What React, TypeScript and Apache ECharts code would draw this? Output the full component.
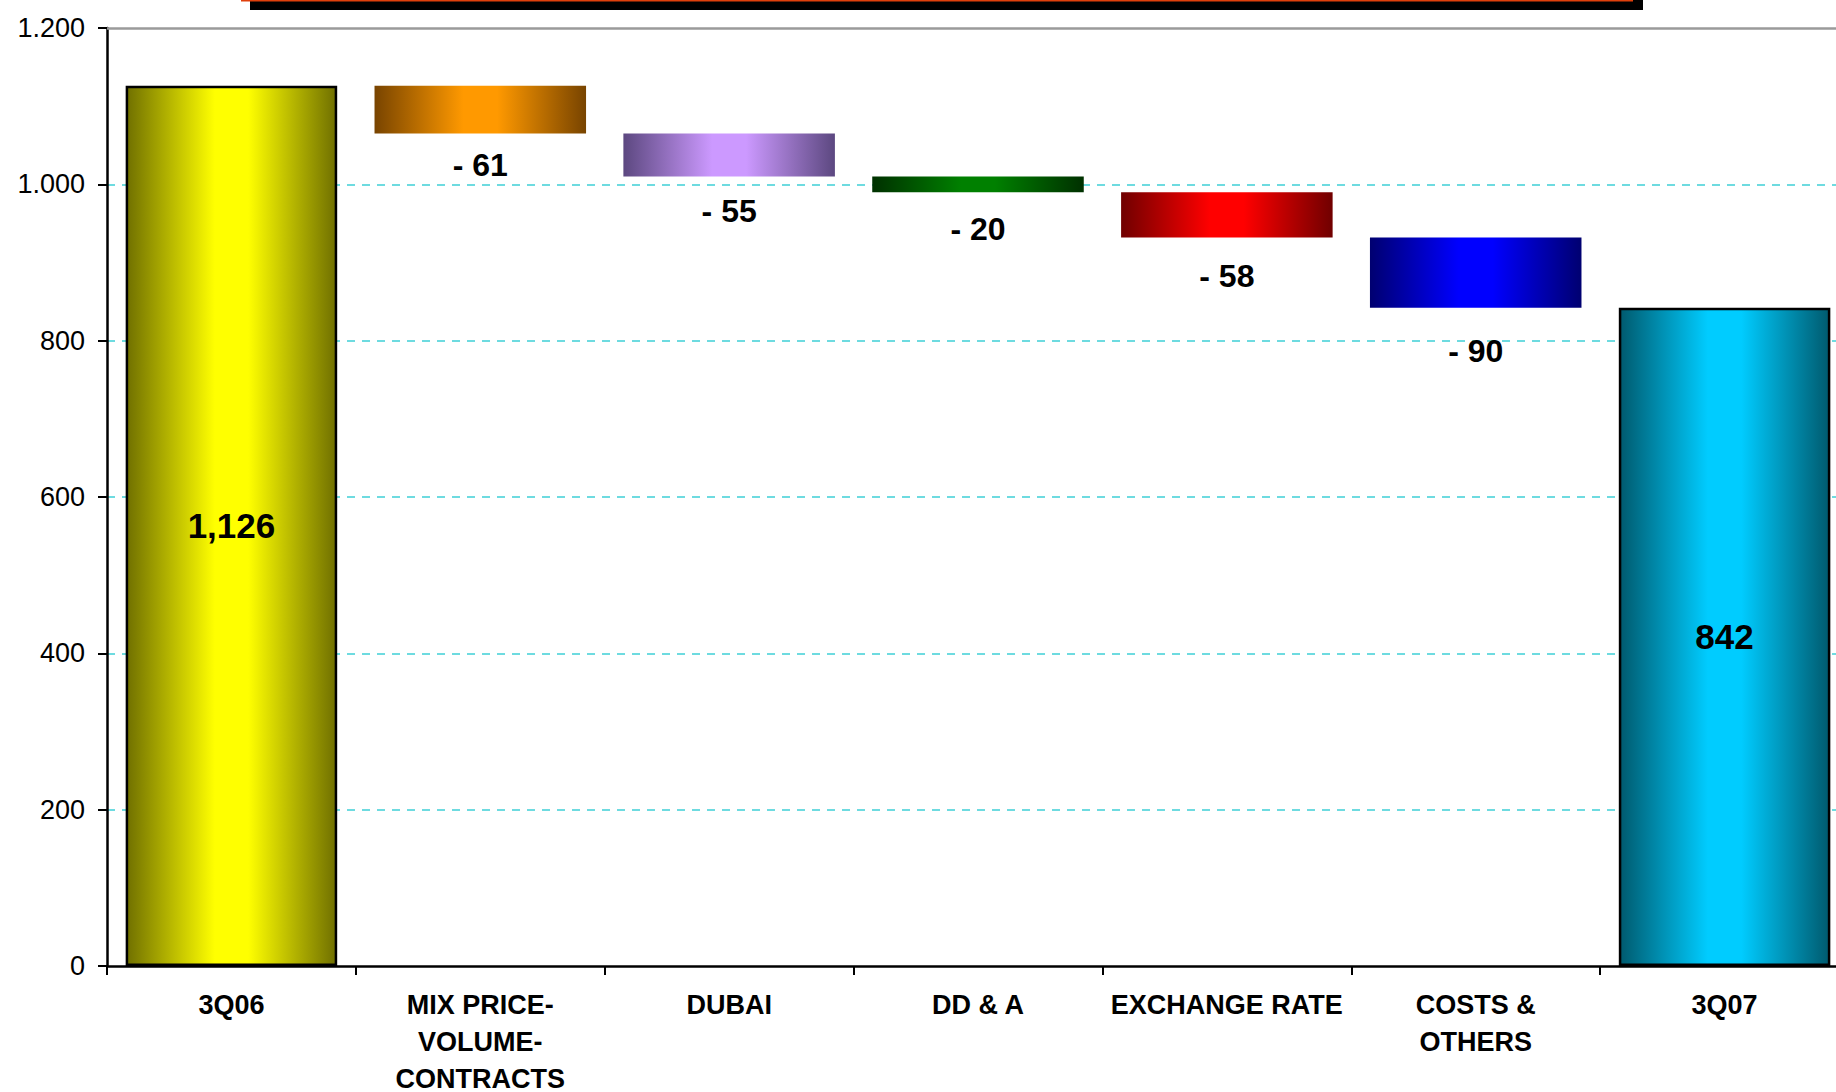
import React, { useEffect, useRef } from "react";
import * as echarts from "echarts";

const categories = [
  "3Q06",
  "MIX PRICE-\nVOLUME-\nCONTRACTS",
  "DUBAI",
  "DD & A",
  "EXCHANGE RATE",
  "COSTS &\nOTHERS",
  "3Q07",
];
const startValue = 1126;
const deltas = [-61, -55, -20, -58, -90];
const endValue = 842;
const yTicks = [0, 200, 400, 600, 800, 1000, 1200];

// gradient palette: [edge, centre]
const palette: [string, string][] = [
  ["#707000", "#ffff00"],
  ["#784400", "#ff9900"],
  ["#5c4880", "#cc99ff"],
  ["#003000", "#008000"],
  ["#700000", "#ff0000"],
  ["#000070", "#0000ff"],
  ["#005a6e", "#00ccff"],
];
// label gap below each delta bar (style)
const deltaLabelGap = [15, 18, 21, 23, 27];

const FONT = "'Liberation Sans', Arial, Helvetica, sans-serif";

function grad(edge: string, mid: string) {
  return new echarts.graphic.LinearGradient(0, 0, 1, 0, [
    { offset: 0, color: edge },
    { offset: 0.42, color: mid },
    { offset: 0.58, color: mid },
    { offset: 1, color: edge },
  ]);
}

export default function App() {
  const ref = useRef<HTMLDivElement>(null);
  useEffect(() => {
    if (!ref.current) return;
    const chart = echarts.init(ref.current, null, { renderer: "svg" });

    const base: number[] = [0];
    const heights: number[] = [startValue];
    let running = startValue;
    deltas.forEach((d) => {
      running += d;
      base.push(d < 0 ? running : running - d);
      heights.push(Math.abs(d));
    });
    base.push(0);
    heights.push(endValue);

    const n = categories.length;
    const valueData = heights.map((h, i) => {
      const isTotal = i === 0 || i === n - 1;
      const [edge, mid] = palette[i];
      return {
        value: h,
        itemStyle: {
          color: grad(edge, mid),
          borderColor: isTotal ? "#000" : "transparent",
          borderWidth: isTotal ? 2.5 : 0,
        },
        label: isTotal
          ? {
              show: true,
              position: "inside",
              fontSize: 35,
              fontWeight: "bold",
              fontFamily: FONT,
              color: "#000",
              formatter: () => h.toLocaleString("en-US"),
            }
          : {
              show: true,
              position: "bottom",
              distance: deltaLabelGap[i - 1],
              fontSize: 32,
              fontWeight: "bold",
              fontFamily: FONT,
              color: "#000",
              formatter: () => "- " + h,
            },
      };
    });

    const grid = "#3fcfd6";
    chart.setOption({
      animation: false,
      backgroundColor: "#fff",
      graphic: [
        {
          type: "rect",
          shape: { x: 250, y: 0, width: 1393, height: 10 },
          style: { fill: "#000" },
          z: 10,
        },
        {
          type: "rect",
          shape: { x: 241, y: 0, width: 1392, height: 1.5 },
          style: { fill: "#e0400c" },
          z: 11,
        },
      ],
      grid: {
        left: 107,
        top: 28,
        width: 1742,
        height: 938,
        containLabel: false,
        outerBoundsMode: "none",
      },
      xAxis: {
        type: "category",
        data: categories,
        axisLine: { lineStyle: { color: "#000", width: 2.5 } },
        axisTick: { show: true, length: 9, lineStyle: { color: "#000", width: 2 } },
        axisLabel: {
          interval: 0,
          fontSize: 27,
          fontWeight: "bold",
          fontFamily: FONT,
          color: "#000",
          lineHeight: 37,
          margin: 20,
        },
      },
      yAxis: {
        type: "value",
        min: 0,
        max: 1200,
        interval: 200,
        axisLine: { show: true, lineStyle: { color: "#000", width: 2.5 } },
        axisTick: { show: true, length: 9, lineStyle: { color: "#000", width: 2 } },
        axisLabel: {
          fontSize: 27,
          fontFamily: FONT,
          color: "#000",
          margin: 22,
          formatter: (v: number) =>
            v >= 1000 ? v.toLocaleString("en-US").replace(",", ".") : String(v),
        },
        splitLine: {
          show: true,
          lineStyle: {
            color: yTicks.map((t, i) =>
              i === 0 || i === yTicks.length - 1 ? "rgba(0,0,0,0)" : grid
            ),
            type: [8, 7],
            width: 1.5,
          },
        },
      },
      series: [
        {
          name: "base",
          type: "bar",
          stack: "w",
          silent: true,
          barWidth: "85%",
          itemStyle: { color: "rgba(0,0,0,0)" },
          data: base,
          markLine: {
            silent: true,
            symbol: ["none", "none"],
            label: { show: false },
            lineStyle: { color: "#9a9a9a", width: 2.5, type: "solid" },
            data: [{ yAxis: yTicks[yTicks.length - 1] }],
          },
        },
        {
          name: "value",
          type: "bar",
          stack: "w",
          barWidth: "85%",
          data: valueData,
        },
      ],
    });
    return () => chart.dispose();
  }, []);
  return (
    <div
      ref={ref}
      style={{
        position: "fixed",
        left: 0,
        top: 0,
        width: 1836,
        height: 1092,
        background: "#fff",
      }}
    />
  );
}
